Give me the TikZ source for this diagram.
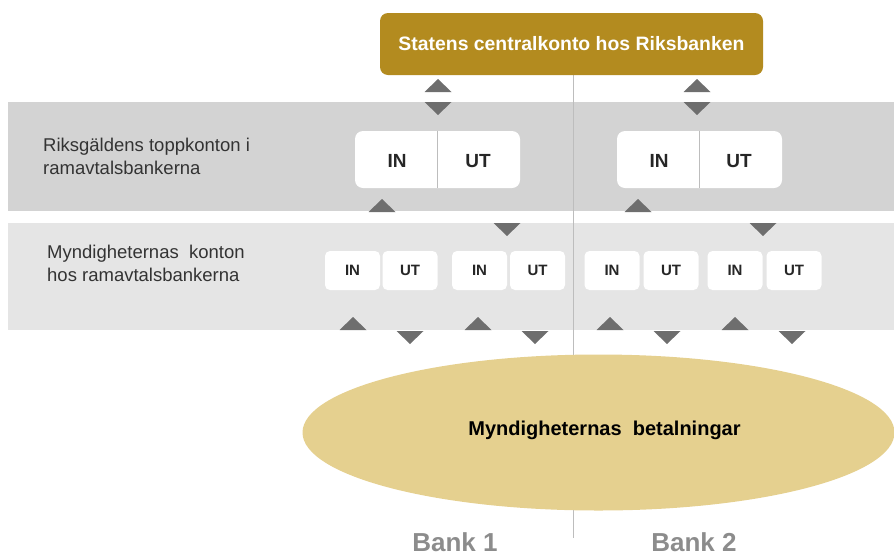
\documentclass[tikz,border=0pt]{standalone}
\usepackage{fontspec}
\setmainfont{Liberation Sans}
\usetikzlibrary{shapes.geometric}
\definecolor{goldc}{HTML}{B38B1F}
\definecolor{ellc}{HTML}{E5D08F}
\definecolor{bandA}{HTML}{D3D3D3}
\definecolor{bandB}{HTML}{E5E5E5}
\definecolor{tric}{HTML}{6E6E6E}
\definecolor{txtc}{HTML}{333333}
\definecolor{bankc}{HTML}{8C8C8C}
\definecolor{linec}{HTML}{BDBDBD}
\tikzset{
  goldbox/.style={fill=goldc, rounded corners=8pt, minimum width=383pt, minimum height=62pt, inner sep=0pt, text=white, font=\fontsize{19.4}{22}\selectfont\bfseries},
  topbox/.style={fill=white, rounded corners=8pt, minimum width=165pt, minimum height=57pt, inner sep=0pt},
  bigtxt/.style={font=\fontsize{19}{22}\selectfont\bfseries, text=black!85, inner sep=0pt},
  smallbox/.style={fill=white, rounded corners=5pt, minimum width=55pt, minimum height=39pt, inner sep=0pt, font=\fontsize{15}{18}\selectfont\bfseries, text=black!85},
  sidetxt/.style={anchor=west, align=left, inner sep=0pt, text=txtc, font=\fontsize{18.5}{23}\selectfont},
  banklbl/.style={text=bankc, inner sep=0pt, font=\fontsize{26}{30}\selectfont\bfseries},
  tup/.pic={\fill[tric] (-13.5,13) -- (13.5,13) -- (0,0) -- cycle;},
  tdown/.pic={\fill[tric] (-13.5,0) -- (13.5,0) -- (0,13) -- cycle;},
}
\begin{document}
\begin{tikzpicture}[x=1pt,y=-1pt]
\useasboundingbox (0,0) rectangle (894,555);
% bands
\fill[bandA] (8,102) rectangle (894,211);
\fill[bandB] (8,223) rectangle (894,330);
% divider line between banks
\coordinate (ltop) at (573,75);
\coordinate (lbot) at (573,538);
\draw[linec, line width=1pt] (ltop) -- (lbot);
% central account
\node[goldbox] (central) at (571.5,44) {Statens centralkonto hos Riksbanken};
% side labels
\node[sidetxt] (lab1) at (43,156.5) {Riksgäldens toppkonton i\\ramavtalsbankerna};
\node[sidetxt] (lab2) at (47,263.5) {Myndigheternas\ \ konton\\hos ramavtalsbankerna};
% top accounts
\node[topbox] (tb1) at (437.5,159.5) {};
\draw[linec, line width=1.5pt] (tb1.north) -- (tb1.south);
\node[bigtxt] (tb1in) at (397,161) {IN};
\node[bigtxt] (tb1ut) at (478,161) {UT};
\node[topbox] (tb2) at (699.5,159.5) {};
\draw[linec, line width=1.5pt] (tb2.north) -- (tb2.south);
\node[bigtxt] (tb2in) at (659,161) {IN};
\node[bigtxt] (tb2ut) at (739,161) {UT};
% agency accounts
\node[smallbox] (a1in) at (352.5,270.5) {IN};
\node[smallbox] (a1ut) at (410,270.5) {UT};
\node[smallbox] (a2in) at (479.5,270.5) {IN};
\node[smallbox] (a2ut) at (537.5,270.5) {UT};
\node[smallbox] (b1in) at (612,270.5) {IN};
\node[smallbox] (b1ut) at (671,270.5) {UT};
\node[smallbox] (b2in) at (735,270.5) {IN};
\node[smallbox] (b2ut) at (794,270.5) {UT};
% payments
\node[ellipse, fill=ellc, minimum width=592pt, minimum height=156pt, inner sep=0pt] (pay) at (598.5,432.5) {};
\node[inner sep=0pt, text=black, font=\fontsize{20}{22}\selectfont\bfseries] (paytxt) at ([xshift=6pt,yshift=2pt]pay.center) {Myndigheternas\ \ betalningar};
% bank labels
\node[banklbl] (bank1) at (455,542) {Bank 1};
\node[banklbl] (bank2) at (694,542) {Bank 2};
% triangles
\pic at (438,79) {tup};
\pic at (438,102) {tdown};
\pic at (697,79) {tup};
\pic at (697,102) {tdown};
\pic at (382,199) {tup};
\pic at (638,199) {tup};
\pic at (507,223) {tdown};
\pic at (763,223) {tdown};
\foreach \u in {353,478,610,735} {\pic at (\u,317) {tup};}
\foreach \d in {410,535,667,792} {\pic at (\d,331) {tdown};}
\end{tikzpicture}
\end{document}
